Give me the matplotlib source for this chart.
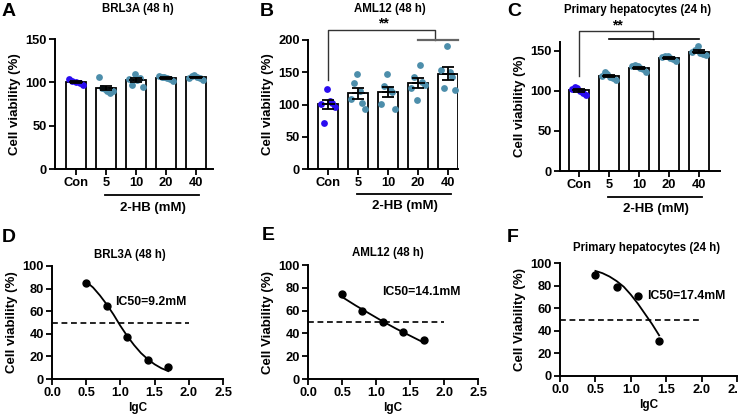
import matplotlib.pyplot as plt
import numpy as np

plt.rcParams['font.family'] = ['Liberation Sans', 'DejaVu Sans']
plt.rcParams['font.weight'] = 'bold'
plt.rcParams['axes.labelweight'] = 'bold'
plt.rcParams['font.size'] = 8

# --- bar panels (A-C): individual wells, % viability ---
groups = ['Con', '5', '10', '20', '40']

brl3a_pts = [[104, 102, 100, 99, 97],
             [106, 94, 92, 90, 88, 90],
             [104, 97, 110, 103, 105, 95],
             [107, 106, 106, 105, 104, 102],
             [105, 107, 108, 106, 105, 103]]
aml12_pts = [[101, 72, 124, 106, 103, 96],
             [108, 133, 147, 121, 102, 93],
             [101, 128, 148, 124, 120, 93],
             [125, 143, 107, 162, 135, 130],
             [153, 125, 190, 151, 143, 122]]
hep_pts = [[102, 105, 104, 100, 97, 95],
           [119, 123, 121, 117, 116, 114],
           [131, 132, 131, 129, 127, 123],
           [142, 144, 143, 141, 140, 137],
           [149, 151, 156, 147, 146, 145]]

# --- IC50 panels (D-F) ---
lgc = [0.5, 0.8, 1.1, 1.4, 1.7]
brl3a_ic = [85, 65, 37, 17, 11]
aml12_ic = [75, 60, 50, 41, 34]
hep_lgc = [0.5, 0.8, 1.1, 1.4]
hep_ic = [89, 79, 71, 31]

# fitted curves as drawn in the original
brl3a_fit_x = [0.5, 0.6, 0.7, 0.8, 0.9, 1.0, 1.1, 1.2, 1.3, 1.4, 1.5, 1.6, 1.7]
brl3a_fit_y = [86, 81, 74, 66, 57, 47, 38, 30, 23, 17.5, 13, 9.5, 7]
aml12_fit_x = [0.5, 0.7, 0.9, 1.1, 1.3, 1.5, 1.7]
aml12_fit_y = [72, 64.5, 57.5, 50.5, 44, 38, 32]
hep_fit_x = [0.5, 0.6, 0.7, 0.8, 0.9, 1.0, 1.1, 1.2, 1.3, 1.4]
hep_fit_y = [93, 91, 88, 84, 79, 72, 64, 55, 46, 36]

con_color = '#2a0cf0'
dot_color = '#4d8eab'

W, H = 738, 416
fig = plt.figure(figsize=(W / 100, H / 100), dpi=100)


def px_axes(left, right, bottom, top):
    return fig.add_axes([left / W, 1 - bottom / H, (right - left) / W, (bottom - top) / H])


def style(ax):
    for s in ['top', 'right']:
        ax.spines[s].set_visible(False)
    for s in ['left', 'bottom']:
        ax.spines[s].set_linewidth(1.4)
    ax.tick_params(direction='out', length=4, width=1.3, labelsize=9.3, pad=2)


def bar_panel(ax, pts, ylim, yticks, line_y):
    style(ax)
    x = np.arange(len(groups))
    means = [np.mean(p) for p in pts]
    sems = [np.std(p, ddof=1) / np.sqrt(len(p)) for p in pts]
    ax.bar(x, means, width=0.67, color='white', edgecolor='black', linewidth=1.3, zorder=1)
    for i, p in enumerate(pts):
        off = np.linspace(-0.24, 0.24, len(p))
        ax.scatter(i + off, p, s=24, color=con_color if i == 0 else dot_color,
                   zorder=2, linewidths=0, clip_on=False)
    ax.errorbar(x, means, yerr=sems, fmt='none', ecolor='black', elinewidth=1.3,
                capsize=4.5, capthick=1.3, zorder=3)
    ax.hlines(means, x - 0.22, x + 0.22, color='black', linewidth=1.3, zorder=3)
    ax.set_ylim(*ylim)
    ax.set_yticks(yticks)
    ax.set_xticks(x)
    ax.set_xticklabels(groups)
    ax.set_ylabel('Cell viability (%)', labelpad=3, fontsize=9.5)
    tr = ax.get_xaxis_transform()
    ax.plot([1 - 0.03, 4.1], [line_y, line_y], color='black', lw=1.3, transform=tr, clip_on=False)
    ax.text(2.55, line_y - 0.05, '2-HB (mM)', transform=tr, ha='center', va='top', fontsize=9.5)


axA = px_axes(55, 213, 169, 39)
bar_panel(axA, brl3a_pts, (0, 150), [0, 50, 100, 150], -0.2)
axA.set_xlim(-0.7, 4.57)

axB = px_axes(308, 458, 169, 40)
bar_panel(axB, aml12_pts, (0, 200), [0, 50, 100, 150, 200], -0.19)
axB.set_xlim(-0.67, 4.33)
axB.plot([0, 0, 3.57, 3.57], [138, 215, 215, 200], color='#333333', lw=1.0, clip_on=False)
axB.plot([3.0, 4.33], [200, 200], color='#666666', lw=1.6, clip_on=False)
axB.text(1.83, 225, '**', ha='center', va='center', fontsize=10)

axC = px_axes(560, 720, 171, 42)
bar_panel(axC, hep_pts, (0, 161), [0, 50, 100, 150], -0.2)
axC.set_xlim(-0.63, 4.7)
axC.plot([0, 0, 2.47, 2.47], [118, 175, 175, 165], color='#333333', lw=1.0, clip_on=False)
axC.plot([1.0, 4.0], [165, 165], color='black', lw=1.2, clip_on=False)
axC.text(1.27, 182, '**', ha='center', va='center', fontsize=10)


def ic_panel(ax, xs, ys, fx, fy, label, ic_text, tx, ty):
    style(ax)
    ax.plot(fx, fy, color='black', lw=1.3, zorder=2)
    ax.plot(xs, ys, 'o', color='black', markersize=5, zorder=3, clip_on=False)
    ax.plot([0, 2.0], [50, 50], color='black', lw=1.2, linestyle=(0, (3.5, 2.2)), zorder=1)
    ax.set_xlim(0, 2.5)
    ax.set_ylim(0, 100)
    ax.set_xticks([0.0, 0.5, 1.0, 1.5, 2.0, 2.5])
    ax.set_xticklabels(['0.0', '0.5', '1.0', '1.5', '2.0', '2.5'])
    ax.set_yticks([0, 20, 40, 60, 80, 100])
    ax.set_xlabel('lgC', labelpad=2, fontsize=8.5)
    ax.set_ylabel(label, labelpad=3, fontsize=9.5)
    ax.text(tx, ty, ic_text, ha='left', va='center', fontsize=8.8)


axD = px_axes(52, 223, 379, 266)
ic_panel(axD, lgc, brl3a_ic, brl3a_fit_x, brl3a_fit_y, 'Cell viability (%)', 'IC50=9.2mM', 0.92, 68)

axE = px_axes(308, 478, 379, 265)
ic_panel(axE, lgc, aml12_ic, aml12_fit_x, aml12_fit_y, 'Cell Viability (%)', 'IC50=14.1mM', 1.09, 76)

axF = px_axes(560, 737, 376, 263)
ic_panel(axF, hep_lgc, hep_ic, hep_fit_x, hep_fit_y, 'Cell Viability (%)', 'IC50=17.4mM', 1.23, 71)

# titles and panel letters
titles = [(138, 9, 'BRL3A (48 h)'), (390, 9, 'AML12 (48 h)'), (638, 10, 'Primary hepatocytes (24 h)'),
          (130, 255, 'BRL3A (48 h)'), (388, 253, 'AML12 (48 h)'), (647, 248, 'Primary hepatocytes (24 h)')]
for x, y, t in titles:
    fig.text(x / W, 1 - y / H, t, ha='center', va='center', fontsize=8.3)

letters = [(2, 11, 'A'), (260, 11, 'B'), (507, 11, 'C'), (2, 237, 'D'), (262, 236, 'E'), (507, 238, 'F')]
for x, y, t in letters:
    fig.text(x / W, 1 - y / H, t, ha='left', va='center', fontsize=14)

fig.savefig('out.png', dpi=100)
